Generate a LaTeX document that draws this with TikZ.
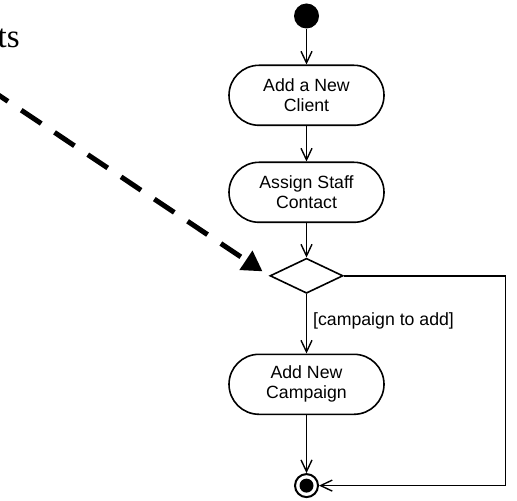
\documentclass[tikz,border=0pt]{standalone}
\usepackage{fontspec}
\setmainfont{Liberation Sans}
\newfontfamily\notefont{Liberation Serif}
\usetikzlibrary{positioning}
\usetikzlibrary{shapes.geometric}
\usetikzlibrary{arrows.meta}

\tikzset{
  activity/.style={draw, line width=0.8pt, rectangle, rounded corners=15pt,
    minimum width=77.5pt, minimum height=30pt, inner sep=0pt, align=center,
    font=\fontsize{8.85pt}{10pt}\selectfont},
  decision/.style={draw, diamond, line width=0.8pt, minimum width=36.5pt,
    minimum height=17.5pt, inner sep=0pt},
  initdot/.style={circle, fill, minimum size=12.5pt, inner sep=0pt},
  finaldot/.style={circle, draw, line width=1pt, minimum size=11.5pt, inner sep=0pt},
  guard/.style={font=\fontsize{8.85pt}{10pt}\selectfont, inner sep=3pt},
  flow/.style={line width=0.7pt, -{Straight Barb[length=5.8pt,width=5.5pt]}},
  pointer/.style={line width=2.5pt, dash pattern=on 12pt off 8pt,
    -{Triangle[length=10pt,width=11pt]}, shorten >=4pt}
}

\begin{document}
\begin{tikzpicture}[x=0.5pt, y=0.5pt]

  \useasboundingbox (0,0) rectangle (517,-501);

  % Define nodes
  \node[initdot] (init) at (306.5,-16) {};
  \node[activity, below=17.8pt of init] (client) {Add a New\\Client};
  \node[activity, below=17.7pt of client] (staff) {Assign Staff\\Contact};
  \node[decision, below=17.2pt of staff] (choice) {};
  \node[activity, below=29.7pt of choice] (campaign) {Add New\\Campaign};
  \node[finaldot, below=29pt of campaign] (final) {};
  \fill (final) circle (3.5pt);

  \node[anchor=base east, inner sep=0pt,
    font=\notefont\fontsize{16.5pt}{18pt}\selectfont] (note) at (20,-48) {ts};
  \coordinate (tail) at (-12,-88);

  % Connect nodes
  \draw[flow] (init) -- (client);
  \draw[flow] (client) -- (staff);
  \draw[flow] (staff) -- (choice);
  \draw[flow] (choice) -- node[guard, right, pos=0.45] {[campaign to add]} (campaign);
  \draw[flow] (campaign) -- (final);
  \draw[flow] (choice.east) -- ++(80.75pt,0) |- (final.east);

  % Pointer
  \begin{scope}
    \clip (0,0) rectangle (517,-501);
    \draw[pointer] (tail) -- (choice.west);
  \end{scope}

\end{tikzpicture}
\end{document}
